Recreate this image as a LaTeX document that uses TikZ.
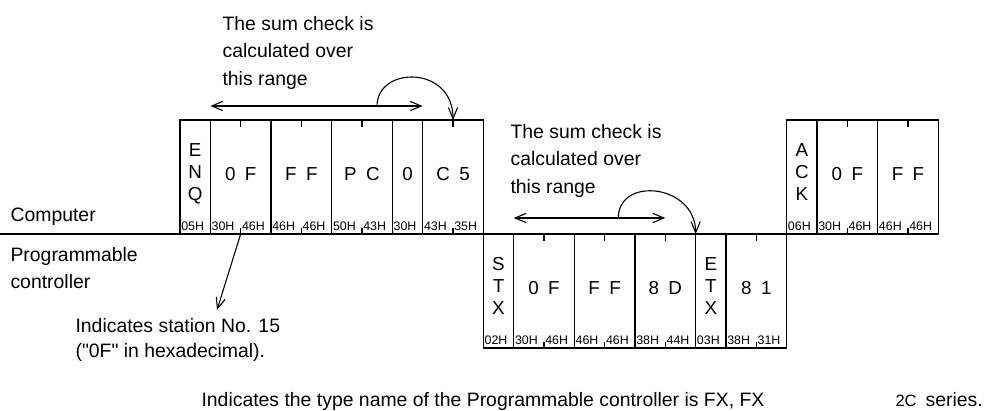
\documentclass[tikz,border=0pt]{standalone}
\usepackage{fontspec}
\newfontfamily\arialfam{Liberation Sans}
\usetikzlibrary{arrows.meta,positioning,calc}

\begin{document}
\begin{tikzpicture}[
  x=0.5pt, y=-0.5pt,
  >={Straight Barb[length=5.5pt,width=4.6pt]},
  line width=0.55pt,
  every node/.style={font=\arialfam\fontsize{9.7}{13.6}\selectfont, inner sep=0pt},
  cell/.style={draw, minimum width=15.17pt, minimum height=57pt, outer sep=0pt, text depth=3pt, font=\arialfam\fontsize{9.4}{10.8}\selectfont},
  wide/.style={cell, minimum width=30.33pt},
  ctrl/.style={cell, align=center, text depth=5pt},
  hex/.style={anchor=south west, inner xsep=0.4pt, inner ysep=1.5pt, font=\arialfam\fontsize{6.2}{7}\selectfont},
  note/.style={anchor=north west, align=left}
]
\useasboundingbox (0,0) rectangle (985,411);
% computer frame
\node[ctrl, anchor=north west] (enq) at (180,120) {E\\N\\Q};
\node[wide, right=0pt of enq] (c0f) {0\enspace F};
\node[wide, right=0pt of c0f] (cff) {F\enspace F};
\node[wide, right=0pt of cff] (cpc) {P\enspace C};
\node[cell, right=0pt of cpc] (c0) {0};
\node[wide, right=0pt of c0] (cc5) {C\enspace 5};
% PLC reply
\node[ctrl, anchor=north west] (stx) at (cc5.south east) {S\\T\\X};
\node[wide, right=0pt of stx] (p0f) {0\enspace F};
\node[wide, right=0pt of p0f] (pff) {F\enspace F};
\node[wide, right=0pt of pff] (p8d) {8\enspace D};
\node[ctrl, right=0pt of p8d] (etx) {E\\T\\X};
\node[wide, right=0pt of etx] (p81) {8\enspace 1};
% acknowledge
\node[ctrl, anchor=south west] (ack) at (p81.north east) {A\\C\\K};
\node[wide, right=0pt of ack] (a0f) {0\enspace F};
\node[wide, right=0pt of a0f] (aff) {F\enspace F};

\foreach \b/\lo/\hi in {c0f/30H/46H, cff/46H/46H, cpc/50H/43H, cc5/43H/35H,
    p0f/30H/46H, pff/46H/46H, p8d/38H/44H, p81/38H/31H, a0f/30H/46H, aff/46H/46H} {
  \draw (\b.north) -- ++(0,7) (\b.south) -- ++(0,-6);
  \node[hex] (\b-lo) at (\b.south west) {\lo};
  \node[hex] (\b-hi) at (\b.south) {\hi};
}
\foreach \b/\lo in {enq/05H, c0/30H, stx/02H, etx/03H, ack/06H}
  \node[hex] (\b-lo) at (\b.south west) {\lo};

\coordinate (lineL) at (0,234);
\draw (lineL) -- (ack.south west);
\node[anchor=base west] (comp) at (10,221.7) {Computer};
\node[note] (plc) at (10,247) {Programmable\\controller};

% sum check ranges
\node[note] (sum1) at (222,16) {The sum check is\\calculated over\\this range};
\coordinate[above=7pt of c0f.north west] (rng1a);
\coordinate[above=7pt of cc5.north west] (rng1b);
\draw[<->] (rng1a) -- (rng1b);
\coordinate (arc1) at ($(rng1a)!.785!(rng1b)$);
\draw[->] (arc1) .. controls +(0,-40) and +(0,-55) .. (cc5.north);

\node[note] (sum2) at (510,124) {The sum check is\\calculated over\\this range};
\coordinate[above=8pt of p0f.north west] (rng2a);
\coordinate[above=8pt of p8d.north] (rng2b);
\draw[<->] (rng2a) -- (rng2b);
\coordinate (arc2) at ($(rng2a)!.69!(rng2b)$);
\draw[->] (arc2) .. controls +(0,-42) and +(0,-50) .. (etx.north west);

% station number
\node[note, font=\arialfam\fontsize{9.7}{12.5}\selectfont] (stn) at (75,318) {Indicates station No. 15\\("0F" in hexadecimal).};
\coordinate (stnTip) at (217,310);
\draw[->] (c0f.south) -- (stnTip);

\node[anchor=base west] (type) at (201,406.7) {Indicates the type name of the Programmable controller is FX, FX};
\node[anchor=base west, font=\arialfam\fontsize{8.2}{9}\selectfont] (sub) at (895,406.7) {2C};
\node[anchor=base west] (series) at (925,406.7) {series.};
\end{tikzpicture}
\end{document}
